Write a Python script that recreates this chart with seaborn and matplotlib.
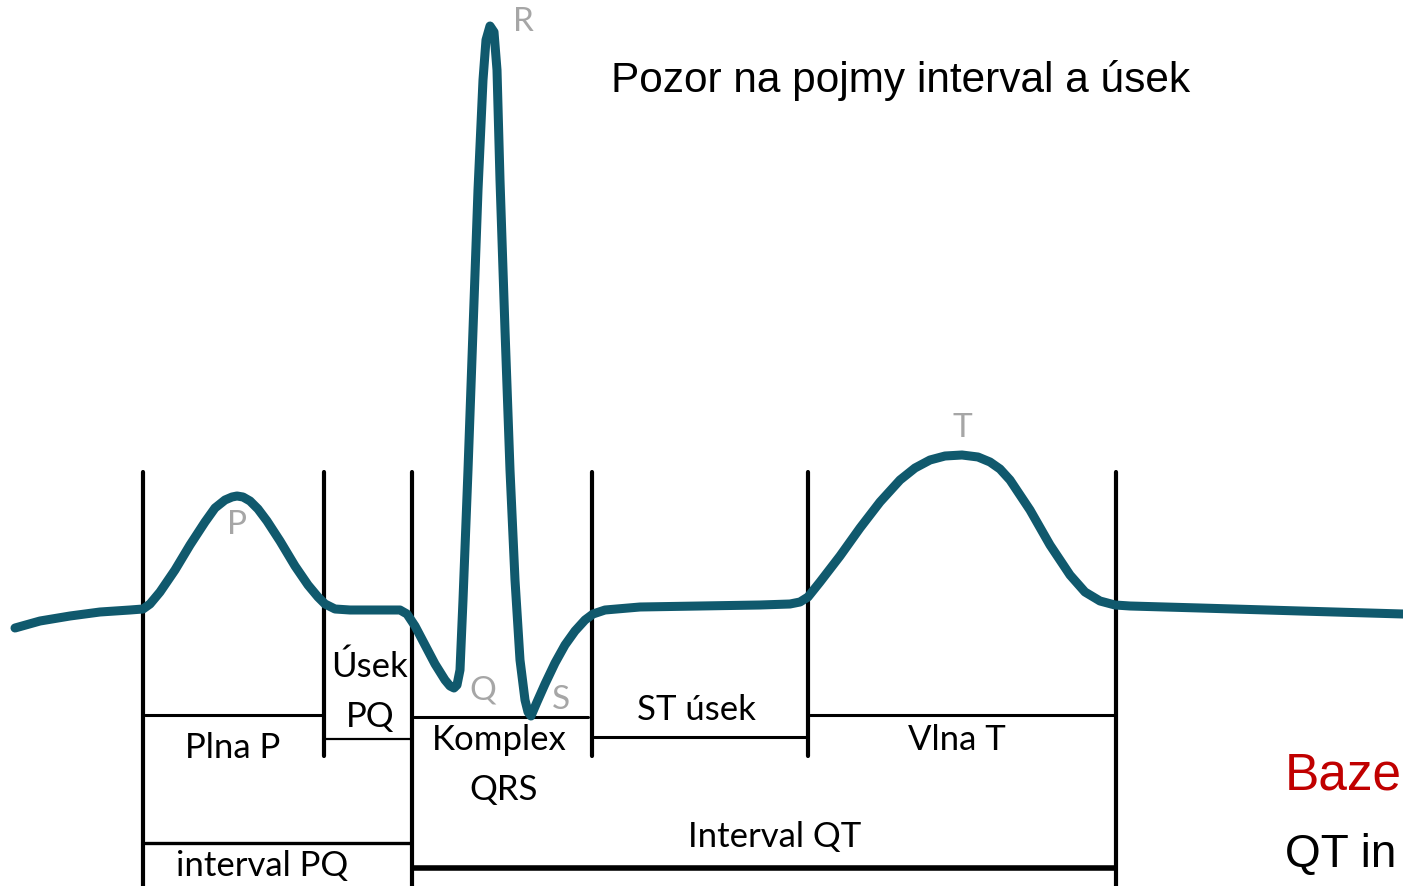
import seaborn as sns
import matplotlib.pyplot as plt
import pandas as pd

# ECG trace (pixel coords, y grows downward)
ecg_x = [15, 40, 70, 100, 130, 143, 150, 160, 175, 190, 205, 215, 225, 232, 237, 243, 250, 258, 267, 280,
         295, 308, 318, 325, 335, 350, 380, 400, 407, 415, 425, 435, 445, 450, 454, 457, 460, 463,
         468, 473, 478, 483, 486, 490, 494, 497, 500, 505, 510, 515, 520, 525, 528, 531, 537, 545,
         555, 565, 575, 585, 593, 605, 640, 700, 760, 790, 800, 808, 820, 840, 860, 880, 900,
         915, 930, 945, 962, 978, 990, 1000, 1010, 1030, 1050, 1070, 1085, 1100, 1115, 1130, 1200, 1300, 1403]
ecg_y = [628, 621, 616, 612, 610, 609, 604, 592, 570, 545, 522, 508, 500, 497, 496, 497, 501, 509, 521, 541,
         566, 585, 597, 604, 609, 610, 610, 610, 614, 626, 645, 664, 680, 686, 688, 685, 670, 600,
         470, 330, 190, 80, 40, 26, 32, 70, 180, 330, 470, 580, 660, 700, 712, 716, 702, 684,
         663, 645, 631, 620, 614, 610, 607, 606, 605, 604, 602, 597, 582, 556, 528, 502, 480,
         468, 460, 456, 455, 457, 462, 469, 480, 510, 545, 575, 592, 601, 605, 606, 608, 611, 614]

# vertical markers: x, top, bottom
vline_x = [143, 324, 412, 592, 808, 1116]
vline_bottom = [886, 756, 886, 756, 756, 886]
vline_top = 472

# horizontal segments: y, x start, x end, width
seg_y = [715, 739, 717, 737, 715, 843, 868]
seg_x0 = [145, 326, 414, 594, 810, 145, 414]
seg_x1 = [322, 410, 588, 806, 1114, 410, 1114]
seg_w = [2.2, 1.6, 2.2, 2.2, 2.2, 2.4, 4.0]

# section labels
label_text = ['Plna P', 'Úsek', 'PQ', 'Komplex', 'QRS', 'ST úsek', 'Vlna T', 'Interval QT', 'interval PQ']
label_x = [233, 369, 370, 499, 504, 696, 957, 775, 262]
label_y = [748, 667, 717, 740, 790, 710, 740, 837, 866]

# wave letters
wave_text = ['P', 'Q', 'R', 'S', 'T']
wave_x = [237, 483, 523, 561, 962]
wave_y = [525, 690, 22, 700, 428]

df = pd.DataFrame({'x': ecg_x, 'y': ecg_y})

sns.set_style('white')
plt.rcParams['font.family'] = ['Lato', 'DejaVu Sans']

fig = plt.figure(figsize=(14.03, 8.86), dpi=100)
ax = fig.add_axes([0, 0, 1, 1])

for x, b in zip(vline_x, vline_bottom):
    ax.plot([x, x], [vline_top, b], color='black', lw=3.0, solid_capstyle='round')
for y, a, b, w in zip(seg_y, seg_x0, seg_x1, seg_w):
    ax.plot([a, b], [y, y], color='black', lw=w)

sns.lineplot(data=df, x='x', y='y', sort=False, color='#10596d', lw=6.5, ax=ax,
             solid_capstyle='round', solid_joinstyle='round')

for t, x, y in zip(label_text, label_x, label_y):
    ax.text(x, y, t, ha='center', va='center', fontsize=25, color='black')
for t, x, y in zip(wave_text, wave_x, wave_y):
    ax.text(x, y, t, ha='center', va='center', fontsize=24, color='#a6a6a6')

ax.text(611, 80, 'Pozor na pojmy interval a úsek', ha='left', va='center',
        fontsize=30.5, family='Liberation Sans', color='black')
ax.text(1285, 776, 'Baze', ha='left', va='center',
        fontsize=37, family='Liberation Sans', color='#c00000')
ax.text(1285, 855, 'QT in', ha='left', va='center',
        fontsize=33, family='Liberation Sans', color='black')

ax.set_xlim(0, 1403)
ax.set_ylim(886, 0)
ax.axis('off')

plt.savefig('out.png', dpi=100)
